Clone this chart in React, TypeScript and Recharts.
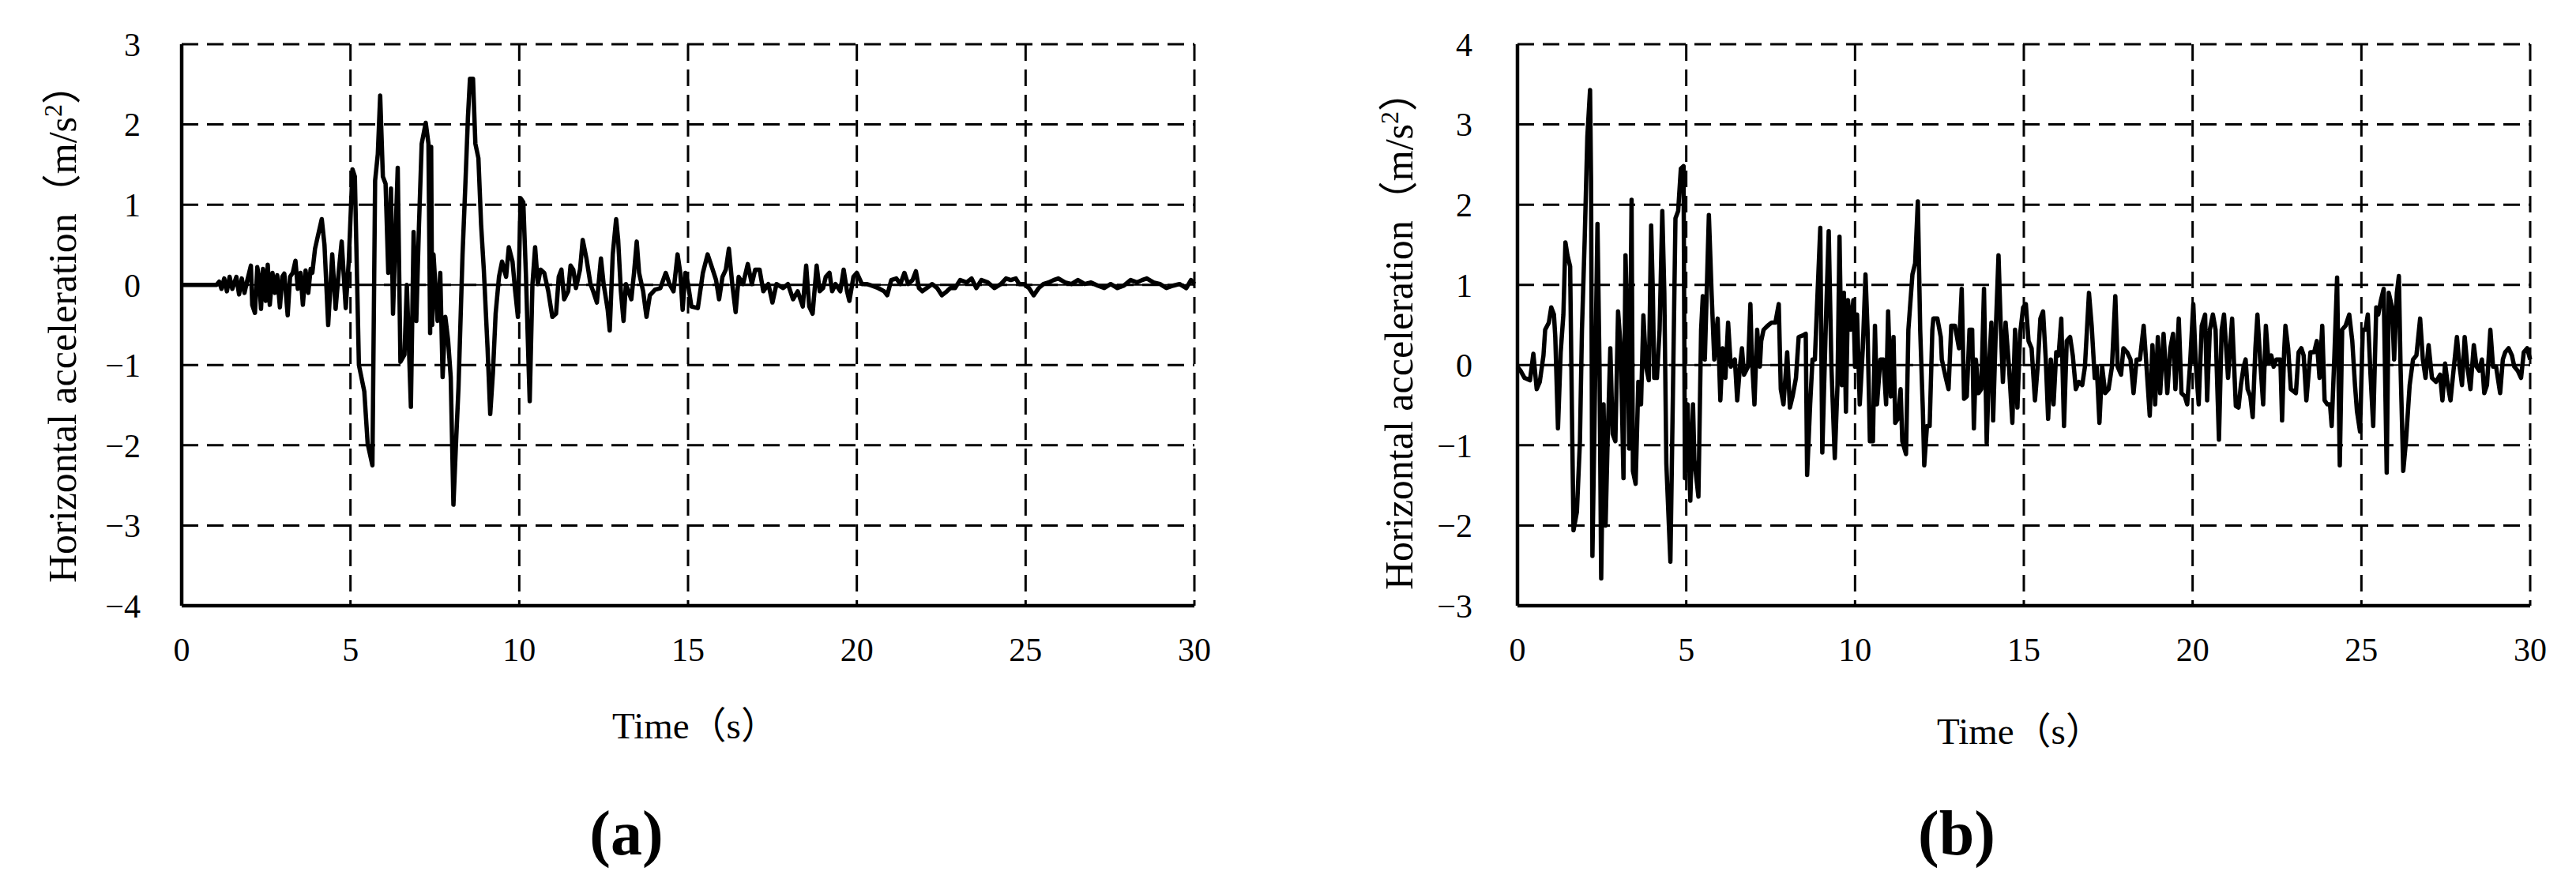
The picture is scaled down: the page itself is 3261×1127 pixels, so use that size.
import { CartesianGrid, Line, LineChart, ReferenceLine, XAxis, YAxis } from "recharts";

// digitised records: [time (s), horizontal acceleration (m/s²)]
const RECORD_A: [number, number][] = [
  [0, 0], [1.03, 0], [1.11, 0.04], [1.18, -0.05], [1.26, 0.08], [1.34, -0.08], [1.42, 0.1], [1.5, -0.05],
  [1.62, 0.1], [1.7, -0.12], [1.78, 0.08], [1.86, -0.1], [1.94, 0.05], [2.05, 0.24], [2.09, -0.25], [2.17, -0.35],
  [2.24, 0.22], [2.29, 0.1], [2.35, -0.3], [2.41, 0.2], [2.49, -0.2], [2.55, 0.25], [2.61, -0.25], [2.69, 0.15],
  [2.76, -0.1], [2.83, 0.12], [2.91, -0.28], [2.98, 0.1], [3.04, 0.14], [3.14, -0.38], [3.21, 0.1], [3.29, 0.15],
  [3.37, 0.3], [3.44, -0.05], [3.52, 0.15], [3.59, -0.25], [3.67, 0.18], [3.75, -0.1], [3.82, 0.2], [3.87, 0.15],
  [3.95, 0.45], [4.03, 0.6], [4.15, 0.82], [4.23, 0.5], [4.34, -0.5], [4.46, 0.38], [4.56, -0.3], [4.66, 0.2],
  [4.74, 0.54], [4.86, -0.29], [4.95, 0.3], [5.06, 1.44], [5.13, 1.35], [5.25, -1.0], [5.41, -1.33], [5.51, -1.98],
  [5.65, -2.25], [5.73, 1.3], [5.81, 1.63], [5.88, 2.36], [5.96, 1.35], [6.04, 1.26], [6.12, 0.15], [6.2, 1.2],
  [6.26, -0.36], [6.4, 1.46], [6.48, -0.96], [6.6, -0.87], [6.67, 0.0], [6.79, -1.52], [6.87, 0.66], [6.95, -0.45],
  [7.03, 0.75], [7.11, 1.76], [7.23, 2.02], [7.31, 1.76], [7.36, -0.6], [7.39, 1.72], [7.42, -0.5], [7.46, 0.38],
  [7.58, -0.45], [7.66, 0.15], [7.73, -1.15], [7.81, -0.4], [7.89, -0.68], [7.97, -1.15], [8.05, -2.74], [8.13, -1.94],
  [8.2, -1.28], [8.32, 0.38], [8.4, 1.21], [8.48, 2.09], [8.54, 2.57], [8.63, 2.57], [8.7, 1.76], [8.79, 1.58],
  [8.87, 0.75], [8.95, 0.19], [9.06, -0.78], [9.14, -1.61], [9.22, -1.1], [9.3, -0.36], [9.4, 0.1], [9.49, 0.29],
  [9.61, 0.1], [9.69, 0.47], [9.8, 0.29], [9.88, -0.08], [9.96, -0.4], [10.04, 1.08], [10.12, 1.03], [10.2, 0.1],
  [10.27, -0.91], [10.31, -1.45], [10.39, 0.0], [10.47, 0.47], [10.55, 0.01], [10.63, 0.19], [10.74, 0.15], [10.86, -0.08],
  [10.98, -0.4], [11.09, -0.36], [11.17, 0.1], [11.25, 0.19], [11.33, -0.18], [11.45, -0.08], [11.52, 0.24], [11.6, 0.19],
  [11.68, -0.04], [11.8, 0.19], [11.88, 0.56], [11.99, 0.33], [12.11, 0.01], [12.19, -0.08], [12.3, -0.22], [12.42, 0.33],
  [12.5, 0.01], [12.62, -0.31], [12.68, -0.57], [12.77, 0.38], [12.87, 0.82], [12.93, 0.56], [13.01, -0.08], [13.09, -0.45],
  [13.16, 0.01], [13.32, -0.18], [13.4, 0.15], [13.48, 0.54], [13.55, 0.15], [13.67, -0.08], [13.77, -0.4], [13.87, -0.13],
  [14.02, -0.06], [14.18, -0.04], [14.34, 0.15], [14.45, 0.01], [14.57, -0.08], [14.69, 0.38], [14.77, 0.15], [14.84, -0.31],
  [14.92, 0.15], [15.0, 0.01], [15.1, -0.27], [15.29, -0.29], [15.44, 0.15], [15.58, 0.38], [15.73, 0.19], [15.83, 0.06],
  [15.92, -0.18], [16.02, 0.1], [16.12, 0.19], [16.21, 0.45], [16.31, 0.01], [16.41, -0.34], [16.5, 0.1], [16.63, 0.01],
  [16.77, 0.26], [16.89, 0.01], [16.99, 0.19], [17.12, 0.19], [17.23, -0.08], [17.38, 0.01], [17.5, -0.22], [17.62, 0.01],
  [17.82, -0.04], [17.96, 0.01], [18.11, -0.18], [18.25, -0.08], [18.4, -0.27], [18.5, 0.24], [18.59, -0.27], [18.69, -0.36],
  [18.81, 0.24], [18.9, -0.08], [19.0, -0.04], [19.08, 0.1], [19.19, 0.15], [19.27, -0.08], [19.37, 0.01], [19.51, -0.08],
  [19.61, 0.19], [19.71, -0.08], [19.78, -0.2], [19.9, 0.1], [20.0, 0.15], [20.15, 0.01], [20.29, 0.01], [20.44, -0.01],
  [20.63, -0.04], [20.81, -0.08], [20.9, -0.13], [21.02, 0.06], [21.17, 0.08], [21.29, 0.01], [21.41, 0.15], [21.52, 0.01],
  [21.65, 0.06], [21.75, 0.17], [21.84, -0.04], [21.94, -0.08], [22.07, -0.04], [22.23, 0.01], [22.38, -0.04], [22.52, -0.13],
  [22.67, -0.08], [22.77, -0.04], [22.91, -0.04], [23.06, 0.06], [23.25, 0.03], [23.4, 0.08], [23.54, -0.04], [23.69, 0.06],
  [23.88, 0.03], [24.08, -0.04], [24.27, 0.01], [24.42, 0.08], [24.56, 0.06], [24.71, 0.08], [24.81, 0.01], [24.95, 0.01],
  [25.1, -0.04], [25.24, -0.13], [25.39, -0.04], [25.53, 0.01], [25.68, 0.03], [25.83, 0.06], [25.97, 0.08], [26.17, 0.03],
  [26.36, 0.01], [26.55, 0.06], [26.75, 0.01], [26.94, 0.03], [27.14, -0.01], [27.33, -0.04], [27.52, 0.01], [27.72, -0.04],
  [27.91, -0.01], [28.11, 0.06], [28.3, 0.03], [28.45, 0.06], [28.59, 0.08], [28.79, 0.03], [28.98, 0.01], [29.17, -0.04],
  [29.37, -0.01], [29.56, 0.01], [29.76, -0.04], [29.9, 0.06], [30, 0.01],
];

const RECORD_B: [number, number][] = [
  [0, -0.02], [0.09, -0.07], [0.21, -0.16], [0.37, -0.19], [0.47, 0.14], [0.57, -0.3], [0.66, -0.21], [0.77, 0.12],
  [0.82, 0.44], [0.93, 0.53], [1.0, 0.72], [1.08, 0.63], [1.12, 0.35], [1.2, -0.79], [1.28, 0.16], [1.36, 0.63],
  [1.42, 1.53], [1.48, 1.37], [1.56, 1.23], [1.61, -0.49], [1.66, -2.06], [1.76, -1.83], [1.85, -0.95], [1.91, 0.44],
  [1.99, 1.55], [2.07, 2.85], [2.15, 3.43], [2.18, 2.28], [2.22, -2.38], [2.29, -0.49], [2.37, 1.76], [2.43, -0.02],
  [2.48, -2.66], [2.55, -0.49], [2.61, -2.0], [2.67, -0.95], [2.75, 0.21], [2.82, -0.86], [2.9, -0.95], [2.98, 0.67],
  [3.06, 0.21], [3.14, -1.41], [3.2, 1.37], [3.26, 0.39], [3.31, -1.04], [3.38, 2.06], [3.42, -1.32], [3.5, -1.48],
  [3.58, -0.21], [3.66, -0.49], [3.73, 0.62], [3.81, -0.02], [3.89, -0.19], [3.96, 1.74], [4.01, 0.9], [4.05, -0.16],
  [4.13, -0.16], [4.21, 0.44], [4.29, 1.92], [4.35, 0.9], [4.41, -1.23], [4.53, -2.45], [4.6, -0.49], [4.68, 1.83],
  [4.76, 1.92], [4.84, 2.45], [4.92, 2.48], [4.96, -1.41], [5.04, -0.49], [5.12, -1.69], [5.2, -0.49], [5.24, -1.18],
  [5.36, -1.64], [5.44, 0.44], [5.49, 0.86], [5.55, 0.07], [5.67, 1.87], [5.75, 0.9], [5.83, 0.07], [5.93, 0.58],
  [6.01, -0.44], [6.08, 0.21], [6.16, -0.16], [6.24, 0.53], [6.32, -0.02], [6.44, 0.07], [6.51, -0.44], [6.59, -0.02],
  [6.65, 0.21], [6.71, -0.12], [6.83, -0.02], [6.9, 0.76], [6.94, 0.12], [7.02, -0.49], [7.1, 0.44], [7.18, -0.02],
  [7.22, 0.3], [7.29, 0.44], [7.41, 0.49], [7.53, 0.53], [7.64, 0.53], [7.74, 0.76], [7.8, -0.3], [7.88, -0.49],
  [7.99, 0.16], [8.07, -0.53], [8.15, -0.39], [8.25, -0.16], [8.33, 0.35], [8.46, 0.37], [8.54, 0.39], [8.58, -1.37],
  [8.67, -0.49], [8.74, 0.07], [8.81, 0.07], [8.89, 0.9], [8.97, 1.71], [9.03, -1.09], [9.13, 0.44], [9.22, 1.67],
  [9.3, -0.02], [9.4, -1.16], [9.48, -0.25], [9.54, 1.6], [9.61, -0.25], [9.67, 0.9], [9.73, -0.58], [9.79, 0.81],
  [9.87, 0.44], [9.95, 0.81], [10.0, -0.02], [10.06, 0.63], [10.14, -0.49], [10.23, 0.21], [10.31, 1.13], [10.37, 0.44],
  [10.44, -0.95], [10.53, -0.95], [10.59, 0.49], [10.65, -0.49], [10.75, 0.07], [10.84, 0.07], [10.92, -0.49], [10.98, 0.67],
  [11.06, -0.39], [11.14, 0.35], [11.19, -0.72], [11.27, -0.67], [11.35, -0.3], [11.4, -0.95], [11.51, -1.11], [11.58, 0.44],
  [11.7, 1.13], [11.78, 1.27], [11.86, 2.04], [11.93, 0.44], [12.01, -0.58], [12.05, -1.25], [12.13, -0.76], [12.21, -0.76],
  [12.29, 0.44], [12.32, 0.58], [12.44, 0.58], [12.54, 0.35], [12.57, 0.07], [12.69, -0.16], [12.77, -0.3], [12.85, 0.49],
  [12.96, 0.49], [13.08, 0.21], [13.16, 0.95], [13.23, -0.42], [13.31, -0.39], [13.39, 0.44], [13.47, 0.44], [13.52, -0.79],
  [13.58, 0.07], [13.66, -0.35], [13.74, -0.3], [13.82, 0.95], [13.9, -0.97], [13.97, -0.02], [14.04, 0.53], [14.09, -0.69],
  [14.17, 0.44], [14.25, 1.37], [14.32, 0.44], [14.38, -0.21], [14.46, 0.53], [14.56, -0.02], [14.66, -0.72], [14.74, 0.44],
  [14.81, -0.53], [14.89, 0.39], [14.98, 0.72], [15.06, 0.76], [15.14, 0.3], [15.23, 0.21], [15.33, -0.44], [15.41, -0.02],
  [15.49, 0.58], [15.57, 0.67], [15.65, 0.07], [15.72, -0.67], [15.8, 0.07], [15.88, -0.49], [15.96, 0.16], [16.03, 0.12],
  [16.11, 0.58], [16.19, -0.76], [16.27, 0.3], [16.37, 0.35], [16.45, 0.12], [16.54, -0.3], [16.63, -0.21], [16.73, -0.25],
  [16.81, -0.02], [16.93, 0.9], [17.01, 0.49], [17.1, -0.16], [17.16, -0.02], [17.24, -0.72], [17.32, -0.02], [17.41, -0.35],
  [17.51, -0.3], [17.61, -0.02], [17.71, 0.86], [17.78, -0.02], [17.88, -0.12], [17.95, 0.21], [18.06, 0.16], [18.16, 0.07],
  [18.25, -0.35], [18.34, 0.07], [18.44, 0.07], [18.55, 0.49], [18.62, 0.07], [18.73, -0.63], [18.81, 0.25], [18.89, -0.49],
  [18.97, 0.35], [19.04, -0.35], [19.14, 0.39], [19.25, -0.35], [19.34, 0.21], [19.42, 0.39], [19.49, -0.3], [19.59, 0.58],
  [19.67, -0.35], [19.77, -0.39], [19.84, -0.49], [19.92, -0.02], [20.02, 0.76], [20.1, -0.02], [20.18, -0.49], [20.27, 0.49],
  [20.37, 0.63], [20.43, -0.44], [20.51, 0.44], [20.6, 0.63], [20.68, 0.44], [20.78, -0.93], [20.86, 0.44], [20.93, 0.63],
  [21.05, -0.16], [21.17, 0.58], [21.28, -0.51], [21.36, -0.53], [21.43, -0.25], [21.51, -0.02], [21.57, 0.07], [21.63, -0.3],
  [21.71, -0.39], [21.78, -0.65], [21.86, 0.21], [21.92, 0.63], [22.0, 0.07], [22.09, -0.49], [22.17, 0.49], [22.25, 0.02],
  [22.33, 0.12], [22.4, -0.02], [22.48, 0.07], [22.6, 0.07], [22.65, -0.69], [22.71, 0.16], [22.75, 0.49], [22.83, 0.21],
  [22.91, -0.3], [23.06, -0.35], [23.14, 0.16], [23.22, 0.21], [23.29, 0.12], [23.37, -0.44], [23.49, 0.16], [23.6, 0.16],
  [23.68, 0.3], [23.76, -0.16], [23.84, 0.49], [23.91, -0.44], [23.99, -0.49], [24.07, -0.49], [24.12, -0.76], [24.2, 0.12],
  [24.28, 1.09], [24.36, -1.25], [24.43, 0.44], [24.53, 0.49], [24.64, 0.63], [24.73, 0.3], [24.81, -0.25], [24.87, -0.58],
  [24.96, -0.83], [25.04, 0.44], [25.12, 0.44], [25.19, 0.63], [25.27, -0.12], [25.35, -0.76], [25.44, 0.72], [25.5, 0.63],
  [25.58, 0.81], [25.66, 0.95], [25.75, -1.34], [25.81, 0.9], [25.91, 0.72], [25.97, 0.07], [26.05, 0.9], [26.11, 1.11],
  [26.16, -0.02], [26.24, -1.32], [26.32, -0.95], [26.43, -0.25], [26.53, 0.07], [26.63, 0.12], [26.74, 0.58], [26.82, 0.07],
  [26.9, -0.16], [26.99, 0.25], [27.09, -0.16], [27.21, -0.21], [27.33, -0.12], [27.4, -0.44], [27.48, 0.02], [27.56, -0.25],
  [27.64, -0.44], [27.75, 0.02], [27.83, 0.35], [27.91, -0.02], [27.98, -0.25], [28.06, 0.35], [28.14, -0.02], [28.23, -0.3],
  [28.33, 0.25], [28.41, -0.02], [28.49, -0.07], [28.57, 0.07], [28.64, -0.35], [28.72, -0.25], [28.82, 0.44], [28.9, -0.02],
  [28.99, -0.02], [29.11, -0.35], [29.19, 0.07], [29.26, 0.16], [29.36, 0.21], [29.46, 0.12], [29.53, -0.02], [29.63, -0.07],
  [29.73, -0.16], [29.81, 0.16], [29.91, 0.21], [30, 0.07],
];

const TIME_TICKS = [0, 5, 10, 15, 20, 25, 30];
const ACC_TICKS_A = [-4, -3, -2, -1, 0, 1, 2, 3];
const ACC_TICKS_B = [-3, -2, -1, 0, 1, 2, 3, 4];

const FONT = "'Liberation Serif', 'Times New Roman', 'Noto Sans CJK SC', serif";

const fmt = (v: number) => (v < 0 ? `\u2212${Math.abs(v)}` : `${v}`);

interface PanelProps {
  record: [number, number][];
  yTicks: number[];
  left: number;
  width: number;
  marginLeft: number;
  marginRight: number;
  yTickGap: number;
}

function Panel({ record, yTicks, left, width, marginLeft, marginRight, yTickGap }: PanelProps) {
  const rows = record.map(([t, a]) => ({ t, a }));
  const tick = { fill: "#000", fontSize: 42, fontFamily: FONT };
  return (
    <div style={{ position: "absolute", left, top: 0 }}>
      <LineChart
        width={width}
        height={1127}
        data={rows}
        margin={{ top: 56, right: marginRight, bottom: 300, left: marginLeft }}
      >
        <CartesianGrid stroke="#000" strokeWidth={3} strokeDasharray="21 11" />
        <XAxis
          dataKey="t"
          type="number"
          domain={[0, 30]}
          ticks={TIME_TICKS}
          height={60}
          tickLine={false}
          tickSize={0}
          tickMargin={40}
          tick={tick}
          axisLine={{ stroke: "#000", strokeWidth: 4.5 }}
        />
        <YAxis
          type="number"
          domain={[yTicks[0], yTicks[yTicks.length - 1]]}
          ticks={yTicks}
          width={80}
          tickLine={false}
          tickSize={0}
          tickMargin={yTickGap}
          tick={tick}
          tickFormatter={fmt}
          axisLine={{ stroke: "#000", strokeWidth: 4.5 }}
        />
        <ReferenceLine y={0} stroke="#000" strokeWidth={2} />
        <Line
          type="linear"
          dataKey="a"
          stroke="#000"
          strokeWidth={5.5}
          strokeLinejoin="round"
          dot={false}
          isAnimationActive={false}
        />
      </LineChart>
    </div>
  );
}

function YTitle({ x, y }: { x: number; y: number }) {
  return (
    <text
      transform={`translate(${x},${y}) rotate(-90)`}
      textAnchor="middle"
      fontSize={50}
      fontFamily={FONT}
      fill="#000"
    >
      Horizontal acceleration（m/s
      <tspan dy={-18} fontSize={32}>2</tspan>
      <tspan dy={18}>）</tspan>
    </text>
  );
}

export default function App() {
  return (
    <div
      style={{
        position: "absolute",
        left: 0,
        top: 0,
        width: 3261,
        height: 1127,
        background: "#fff",
        overflow: "hidden",
      }}
    >
      <Panel
        record={RECORD_A}
        yTicks={ACC_TICKS_A}
        left={0}
        width={1700}
        marginLeft={150}
        marginRight={188}
        yTickGap={52}
      />
      <Panel
        record={RECORD_B}
        yTicks={ACC_TICKS_B}
        left={1600}
        width={1661}
        marginLeft={241}
        marginRight={58}
        yTickGap={57}
      />
      <svg
        width={3261}
        height={1127}
        style={{ position: "absolute", left: 0, top: 0, pointerEvents: "none" }}
      >
        <YTitle x={96} y={410} />
        <YTitle x={1788} y={419} />
        <text x={880} y={935} textAnchor="middle" fontSize={47} fontFamily={FONT} fill="#000">
          Time（s）
        </text>
        <text x={2557} y={942} textAnchor="middle" fontSize={47} fontFamily={FONT} fill="#000">
          Time（s）
        </text>
        <text x={793} y={1082} textAnchor="middle" fontSize={80} fontWeight="bold" fontFamily={FONT} fill="#000">
          (a)
        </text>
        <text x={2477} y={1082} textAnchor="middle" fontSize={80} fontWeight="bold" fontFamily={FONT} fill="#000">
          (b)
        </text>
      </svg>
    </div>
  );
}
